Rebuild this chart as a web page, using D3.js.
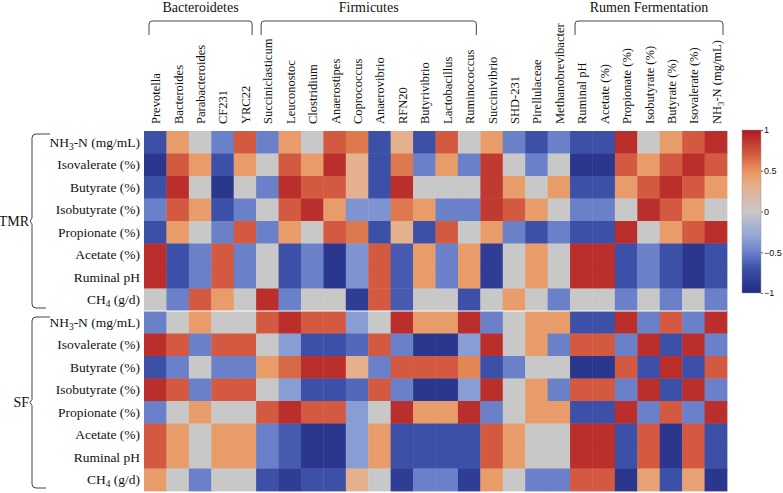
<!DOCTYPE html>
<html>
<head>
<meta charset="utf-8">
<script src="https://cdn.jsdelivr.net/npm/d3@7"></script>
<style>
  body { margin: 0; background: #fff; }
  text { font-family: "Liberation Serif", "Times New Roman", serif; fill: #111; }
</style>
</head>
<body>
<svg id="chart"></svg>
<script>
// column taxa + rumen parameters
const columns = ["Prevotella", "Bacteroides", "Parabacteroides", "CF231", "YRC22",
  "Succiniclasticum", "Leuconostoc", "Clostridium", "Anaerostipes", "Coprococcus",
  "Anaerovibrio", "RFN20", "Butyrivibrio", "Lactobacillus", "Ruminococcus",
  "Succinivibrio", "SHD-231", "Pirellulaceae", "Methanobrevibacter",
  "Ruminal pH", "Acetate (%)", "Propionate (%)", "Isobutyrate (%)", "Butyrate (%)",
  "Isovalerate (%)", "NH3-N (mg/mL)"];

const groups = [
  { name: "Bacteroidetes", first: "Prevotella", last: "YRC22" },
  { name: "Firmicutes", first: "Succiniclasticum", last: "Ruminococcus" },
  { name: "Rumen Fermentation", first: "Ruminal pH", last: "NH3-N (mg/mL)" }
];

const blocks = ["TMR", "SF"];
const rowLabels = ["NH3-N (mg/mL)", "Isovalerate (%)", "Butyrate (%)", "Isobutyrate (%)",
  "Propionate (%)", "Acetate (%)", "Ruminal pH", "CH4 (g/d)"];

// correlation values, one row per rowLabel
const valuesTMR = [
  [-0.7, 0.45, 0, -0.5, 0.7, -0.5, 0.45, 0, 0.7, 0.6, -0.7, 0.3, -0.7, 0.7, 0, 0.45, -0.5, -0.7, -0.5, -0.7, -0.7, 0.9, 0, 0.45, 0.7, 0.9],
  [-0.9, 0.7, 0.45, -0.7, 0.45, 0, 0.7, 0.45, 0.9, 0.3, -0.7, 0.6, -0.5, 0.45, -0.5, 0.85, 0, -0.5, 0, -0.9, -0.9, 0.7, 0.45, 0.7, 0.9, 0.7],
  [-0.7, 0.9, 0, -0.9, 0, -0.5, 0.9, 0.7, 0.7, 0.3, -0.7, 0.9, 0, 0, 0, 0.85, 0.45, 0, 0.45, -0.7, -0.7, 0.45, 0.7, 0.9, 0.7, 0.45],
  [-0.5, 0.7, 0.45, -0.7, -0.5, 0, 0.7, 0.9, 0.45, -0.4, -0.4, 0.6, 0.45, -0.5, -0.5, 0.85, 0.7, 0.45, 0, -0.5, -0.5, 0, 0.9, 0.7, 0.45, 0],
  [-0.7, 0.45, 0, -0.5, 0.7, -0.5, 0.45, 0, 0.7, 0.6, -0.7, 0.3, -0.7, 0.7, 0, 0.45, -0.5, -0.7, -0.5, -0.7, -0.7, 0.9, 0, 0.45, 0.7, 0.9],
  [0.9, -0.7, -0.5, 0.7, -0.5, 0, -0.7, -0.5, -0.9, -0.4, 0.7, -0.65, 0.45, -0.5, 0.45, -0.85, 0, 0.45, 0, 0.9, 0.9, -0.7, -0.5, -0.7, -0.9, -0.7],
  [0.9, -0.7, -0.5, 0.7, -0.5, 0, -0.7, -0.5, -0.9, -0.4, 0.7, -0.65, 0.45, -0.5, 0.45, -0.85, 0, 0.45, 0, 0.9, 0.9, -0.7, -0.5, -0.7, -0.9, -0.7],
  [0, -0.5, 0.7, 0.45, 0, 0.9, -0.5, 0, 0, -0.85, 0.7, -0.65, 0, 0, -0.7, 0, 0.45, 0, -0.5, 0, 0, -0.5, 0, -0.5, 0, -0.5]
];

const valuesSF = [
  [-0.5, 0, 0.45, 0, 0, 0.7, 0.9, 0.7, 0.7, -0.35, 0, 0.9, 0.45, 0.45, 0.9, -0.5, 0, 0.45, 0.45, -0.7, -0.7, 0.9, -0.5, 0.7, -0.5, 0.9],
  [0.9, 0.7, -0.5, 0.7, 0.7, 0, -0.35, -0.7, -0.7, -0.6, 0.7, -0.5, -0.9, -0.9, -0.35, 0.9, 0, 0.45, -0.5, 0.7, 0.7, -0.5, 0.9, -0.7, 0.9, -0.5],
  [-0.7, -0.5, 0, -0.5, -0.5, 0.45, 0.65, 0.9, 0.9, 0.3, -0.5, 0.7, 0.7, 0.7, 0.55, -0.7, -0.5, 0, 0, -0.9, -0.9, 0.7, -0.7, 0.9, -0.7, 0.7],
  [0.9, 0.7, -0.5, 0.7, 0.7, 0, -0.35, -0.7, -0.7, -0.6, 0.7, -0.5, -0.9, -0.9, -0.35, 0.9, 0, 0.45, -0.5, 0.7, 0.7, -0.5, 0.9, -0.7, 0.9, -0.5],
  [-0.5, 0, 0.45, 0, 0, 0.7, 0.9, 0.7, 0.7, -0.35, 0, 0.9, 0.45, 0.45, 0.9, -0.5, 0, 0.45, 0.45, -0.7, -0.7, 0.9, -0.5, 0.7, -0.5, 0.9],
  [0.7, 0.45, 0, 0.45, 0.45, -0.5, -0.65, -0.9, -0.9, -0.35, 0.45, -0.7, -0.7, -0.7, -0.7, 0.7, 0.45, 0, 0, 0.9, 0.9, -0.7, 0.7, -0.9, 0.7, -0.7],
  [0.7, 0.45, 0, 0.45, 0.45, -0.5, -0.65, -0.9, -0.9, -0.35, 0.45, -0.7, -0.7, -0.7, -0.7, 0.7, 0.45, 0, 0, 0.9, 0.9, -0.7, 0.7, -0.9, 0.7, -0.7],
  [0.45, 0, -0.5, 0, 0, -0.7, -0.85, -0.7, -0.7, 0.3, 0, -0.85, -0.5, -0.5, -0.85, 0.45, 0, -0.5, -0.5, 0.7, 0.7, -0.9, 0.4, -0.7, 0.4, -0.9]
];

const legendTicks = [1, 0.5, 0, -0.5, -1];

const width = 783, height = 493;

const svg = d3.select("#chart")
  .attr("width", width)
  .attr("height", height);

// rows: TMR block on top, SF block below
const rows = [];
blocks.forEach((b, bi) => {
  const vals = bi === 0 ? valuesTMR : valuesSF;
  rowLabels.forEach((lab, ri) => rows.push({ block: b, label: lab, values: vals[ri], idx: bi * rowLabels.length + ri }));
});

const x = d3.scaleBand().domain(columns).range([144, 727]);
const y = d3.scaleBand().domain(d3.range(rows.length)).range([131, 491]);

const color = d3.scaleLinear()
  .domain([-1, -0.7, -0.5, -0.3, 0, 0.3, 0.5, 0.7, 1])
  .range(["#222a80", "#3c50a8", "#6a80c8", "#94a5d8", "#c8c8c8", "#e5b08e", "#e8955e", "#d35a40", "#ad1a22"])
  .clamp(true);

// label with chemical subscript (NH3, CH4)
function addLabel(sel, label) {
  const m = label.match(/^(NH|CH)(\d)(.*)$/);
  if (!m) { sel.text(label); return; }
  sel.append("tspan").text(m[1]);
  sel.append("tspan").attr("font-size", "0.7em").attr("dy", 3).text(m[2]);
  sel.append("tspan").attr("dy", -3).text(m[3]);
}

// cells
const cells = [];
rows.forEach(r => r.values.forEach((v, ci) => cells.push({ row: r.idx, col: columns[ci], v })));

svg.append("g")
  .selectAll("rect")
  .data(cells)
  .join("rect")
  .attr("x", d => x(d.col))
  .attr("y", d => y(d.row))
  .attr("width", x.bandwidth() + 0.4)
  .attr("height", y.bandwidth() + 0.4)
  .attr("fill", d => color(d.v));

// thin split between the two blocks
svg.append("line")
  .attr("x1", 144).attr("x2", 727)
  .attr("y1", y(rowLabels.length)).attr("y2", y(rowLabels.length))
  .attr("stroke", "#fff").attr("stroke-width", 1);

// column labels
svg.append("g")
  .selectAll("text")
  .data(columns)
  .join("text")
  .attr("transform", d => `translate(${x(d) + x.bandwidth() / 2 + 5},124) rotate(-90)`)
  .attr("text-anchor", "start")
  .style("font-size", "12.5px")
  .each(function (d) { addLabel(d3.select(this), d); });

// row labels
svg.append("g")
  .selectAll("text")
  .data(rows)
  .join("text")
  .attr("x", 140)
  .attr("y", d => y(d.idx) + y.bandwidth() / 2)
  .attr("dy", "0.35em")
  .attr("text-anchor", "end")
  .style("font-size", "13.5px")
  .each(function (d) { addLabel(d3.select(this), d.label); });

// group brackets on top
const bw = x.bandwidth();
const topG = svg.append("g");
groups.forEach(g => {
  const x0 = x(g.first) + 5, x1 = x(g.last) + bw - 4;
  const yt = 21, yb = 35, r = 3;
  topG.append("path")
    .attr("d", `M${x0},${yb} L${x0},${yt + r} Q${x0},${yt} ${x0 + r},${yt} L${x1 - r},${yt} Q${x1},${yt} ${x1},${yt + r} L${x1},${yb}`)
    .attr("fill", "none").attr("stroke", "#444").attr("stroke-width", 1);
  topG.append("text")
    .attr("x", (x0 + x1) / 2)
    .attr("y", 12)
    .attr("text-anchor", "middle")
    .style("font-size", "14px")
    .text(g.name);
});

// block brackets on the left
const leftG = svg.append("g");
blocks.forEach((b, bi) => {
  const n = rowLabels.length;
  const y0 = y(bi * n) + (bi === 0 ? 3 : 6);
  const y1 = y(bi * n + n - 1) + y.bandwidth() - 3;
  const xm = 32, r = 4;
  const ym = (y0 + y1) / 2;
  leftG.append("path")
    .attr("d", `M${xm + 18},${y0} L${xm + r},${y0} Q${xm},${y0} ${xm},${y0 + r} L${xm},${ym - 3} L${xm - 2},${ym} L${xm},${ym + 3} L${xm},${y1 - r} Q${xm},${y1} ${xm + r},${y1} L${xm + 14},${y1}`)
    .attr("fill", "none").attr("stroke", "#444").attr("stroke-width", 1);
  leftG.append("text")
    .attr("x", 29)
    .attr("y", ym)
    .attr("dy", "0.35em")
    .attr("text-anchor", "end")
    .style("font-size", "14px")
    .text(b);
});

// colour bar
const defs = svg.append("defs");
const grad = defs.append("linearGradient")
  .attr("id", "cbar")
  .attr("x1", 0).attr("y1", 1).attr("x2", 0).attr("y2", 0);
d3.range(0, 1.0001, 0.05).forEach(t => {
  grad.append("stop").attr("offset", t).attr("stop-color", color(-1 + 2 * t));
});

const ly = d3.scaleLinear().domain([1, -1]).range([130, 293]);
svg.append("rect")
  .attr("x", 742).attr("y", ly(1))
  .attr("width", 19).attr("height", ly(-1) - ly(1))
  .attr("fill", "url(#cbar)")
  .attr("stroke", "#999").attr("stroke-width", 0.5);

const lg = svg.append("g")
  .attr("transform", "translate(761,0)")
  .call(d3.axisRight(ly).tickValues(legendTicks).tickSize(2).tickFormat(d3.format("")));
lg.select(".domain").remove();
lg.selectAll("line").attr("stroke", "#666");
lg.selectAll("text")
  .style("font-family", "'Liberation Sans', Arial, sans-serif")
  .style("font-size", "9px")
  .attr("x", 3)
  .attr("fill", "#333");
</script>
</body>
</html>
